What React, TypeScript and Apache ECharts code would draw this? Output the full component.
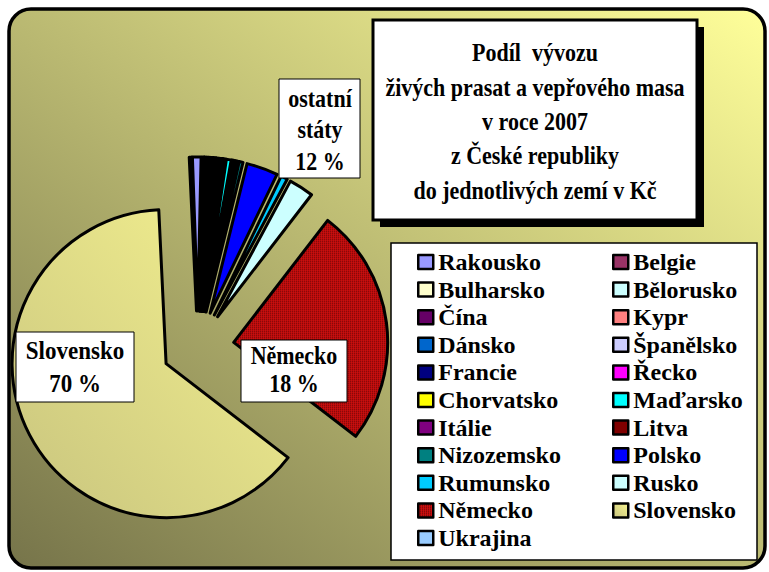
import React, { useEffect, useRef } from "react";
import * as echarts from "echarts";

const countries = [
  "Rakousko", "Belgie", "Bulharsko", "Bělorusko", "Čína", "Kypr", "Dánsko",
  "Španělsko", "Francie", "Řecko", "Chorvatsko", "Maďarsko", "Itálie", "Litva",
  "Nizozemsko", "Polsko", "Rumunsko", "Rusko", "Německo", "Slovensko", "Ukrajina",
];
// share of export value (%)
const shares = [
  0.9, 0.2, 0.2, 0.1, 0.3, 0.1, 0.3,
  0.2, 0.3, 0.1, 0.2, 0.5, 0.3, 0.3,
  0.4, 3.3, 0.7, 2.6, 25.0, 63.8, 0.2,
];
const sliceColors = [
  "#9999FF", "#993366", "#FFFFCC", "#CCFFFF", "#660066", "#FF8080", "#0066CC",
  "#CCCCFF", "#000080", "#FF00FF", "#FFFF00", "#00FFFF", "#800080", "#800000",
  "#008080", "#0000FF", "#00CCFF", "#CCFFFF", "pattern", "gradient", "#99CCFF",
];
const titleLines = [
  "Podíl  vývozu",
  "živých prasat a vepřového masa",
  "v roce 2007",
  "z České republiky",
  "do jednotlivých zemí v Kč",
];
const calloutOthers = ["ostatní", "státy", "12 %"];
const calloutGermany = ["Německo", "18 %"];
const calloutSlovakia = ["Slovensko", "70 %"];

const legendCol1 = countries.filter((_, i) => i % 2 === 0);
const legendCol2 = countries.filter((_, i) => i % 2 === 1);

const FONT = "'Liberation Serif', 'Times New Roman', serif";

function textEl(lines: string[], x: number, y: number, size: number, lh: number, z: number, scaleY = 1) {
  return {
    type: "text",
    z,
    x,
    y,
    scaleY,
    style: {
      text: lines.join("\n"),
      fontFamily: FONT,
      fontWeight: "bold",
      fontSize: size,
      lineHeight: lh,
      fill: "#000",
      align: "center",
      verticalAlign: "middle",
      textAlign: "center",
      textVerticalAlign: "middle",
    },
  };
}

export default function App() {
  const ref = useRef<HTMLDivElement>(null);
  useEffect(() => {
    document.body.style.margin = "0";
    const el = ref.current!;
    const chart = echarts.init(el, null, { renderer: "svg" });

    const cv = document.createElement("canvas");
    cv.width = 2;
    cv.height = 2;
    const ctx = cv.getContext("2d")!;
    ctx.fillStyle = "#E01010";
    ctx.fillRect(0, 0, 2, 2);
    ctx.fillStyle = "#200000";
    ctx.fillRect(0, 0, 1, 1);

    const slovGrad = new echarts.graphic.LinearGradient(1, 0, 0, 1, [
      { offset: 0, color: "#F6F390" },
      { offset: 1, color: "#C8C47E" },
    ]);

    const data = countries.map((name, i) => {
      let color: any = sliceColors[i];
      if (color === "pattern") color = { image: cv, repeat: "repeat" };
      if (color === "gradient") color = slovGrad;
      return { name, value: shares[i], selected: true, itemStyle: { color } };
    });

    const legendBase = {
      orient: "vertical",
      top: 250,
      padding: 0,
      itemWidth: 15,
      itemHeight: 14,
      itemGap: 3.6,
      selectedMode: false,
      icon: "rect",
      textStyle: { fontFamily: FONT, fontWeight: "bold", fontSize: 24, lineHeight: 24, color: "#000" },
      itemStyle: { borderColor: "#000", borderWidth: 2.5 },
    };

    chart.setOption({
      animation: false,
      legend: [
        { ...legendBase, left: 417, data: legendCol1 },
        { ...legendBase, left: 612, data: legendCol2 },
      ],
      graphic: [
        {
          type: "rect",
          z: -10,
          shape: { x: 9, y: 9, width: 756, height: 559, r: 22 },
          style: {
            fill: new echarts.graphic.LinearGradient(0, 1, 1, 0, [
              { offset: 0, color: "#76744A" },
              { offset: 1, color: "#FFFF9A" },
            ]),
            stroke: "#000",
            lineWidth: 3.5,
          },
        },
        { type: "rect", z: 1, shape: { x: 391, y: 243, width: 366, height: 317 }, style: { fill: "#fff", stroke: "#000", lineWidth: 1.5 } },
        { type: "rect", z: 20, shape: { x: 380, y: 27, width: 324, height: 200 }, style: { fill: "#000" } },
        { type: "rect", z: 21, shape: { x: 373, y: 20, width: 324, height: 200 }, style: { fill: "#fff", stroke: "#000", lineWidth: 3 } },
        textEl(titleLines, 535, 121.5, 22, 31.2, 22, 1.1),
        { type: "rect", z: 20, shape: { x: 279, y: 79, width: 81, height: 99 }, style: { fill: "#fff", stroke: "#000", lineWidth: 1 } },
        textEl(calloutOthers, 320, 130, 22, 28.5, 21, 1.1),
        { type: "rect", z: 20, shape: { x: 241, y: 340, width: 106, height: 62 }, style: { fill: "#fff", stroke: "#000", lineWidth: 1 } },
        textEl(calloutGermany, 294, 370, 22, 25.5, 21, 1.1),
        { type: "rect", z: 20, shape: { x: 16, y: 332, width: 118, height: 70 }, style: { fill: "#fff", stroke: "#000", lineWidth: 1 } },
        textEl(calloutSlovakia, 75, 366.5, 23, 30, 21, 1.1),
      ],
      series: [
        {
          type: "pie",
          center: [198, 347],
          radius: 154,
          startAngle: 92,
          clockwise: true,
          selectedMode: "multiple",
          selectedOffset: 36,
          avoidLabelOverlap: false,
          silent: true,
          label: { show: false },
          labelLine: { show: false },
          emphasis: { disabled: true, scale: false },
          itemStyle: { borderColor: "#000", borderWidth: 3, borderJoin: "round" },
          select: { itemStyle: { borderColor: "#000", borderWidth: 3 } },
          data,
        },
      ],
    });
    return () => chart.dispose();
  }, []);
  return <div ref={ref} style={{ width: 769, height: 572 }} />;
}
